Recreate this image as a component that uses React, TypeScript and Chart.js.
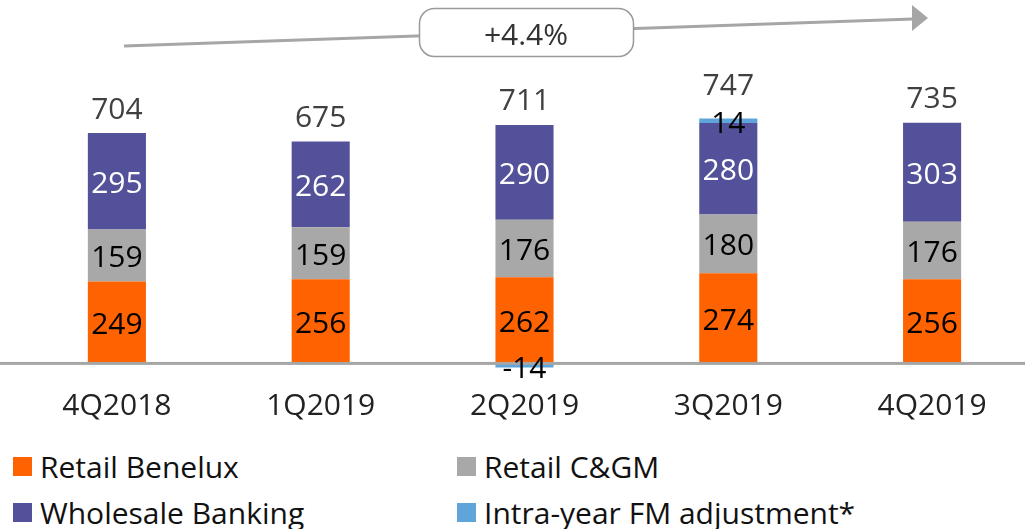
import React, { useEffect, useRef } from 'react';
import { Chart, registerables } from 'chart.js';

Chart.register(...registerables);

const categories = ['4Q2018', '1Q2019', '2Q2019', '3Q2019', '4Q2019'];
const retailBenelux = [249, 256, 262, 274, 256];
const retailCGM = [159, 159, 176, 180, 176];
const wholesaleBanking = [295, 262, 290, 280, 303];
const fmAdjustment = [0, 0, -14, 14, 0];
const totals = [704, 675, 711, 747, 735];
const growthLabel = '+4.4%';
const seriesNames = ['Retail Benelux', 'Retail C&GM', 'Wholesale Banking', 'Intra-year FM adjustment*'];

const colors = ['#FF6200', '#A8A8A8', '#525199', '#5FA5DA'];
const labelColors = ['#000000', '#000000', '#FFFFFF', '#000000'];
const FONT = '"Open Sans", "Liberation Sans", sans-serif';
const TEXT_SHIFT = 3;

const overlayPlugin = {
  id: 'overlay',
  afterDatasetsDraw(chart: any) {
    const ctx = chart.ctx;
    const yScale = chart.scales.y;
    const zero = yScale.getPixelForValue(0);
    ctx.save();
    // baseline
    ctx.fillStyle = '#A6A6A6';
    ctx.fillRect(0, zero - 1, chart.width, 3);

    // segment labels
    ctx.font = `30px ${FONT}`;
    ctx.textAlign = 'center';
    ctx.textBaseline = 'middle';
    const tops: number[] = categories.map(() => Infinity);
    const xs: number[] = categories.map(() => 0);
    chart.data.datasets.forEach((ds: any, di: number) => {
      const meta = chart.getDatasetMeta(di);
      meta.data.forEach((el: any, i: number) => {
        const v = ds.data[i];
        const p = el.getProps(['x', 'y', 'base'], true);
        xs[i] = p.x;
        if (!v) return;
        if (v > 0) tops[i] = Math.min(tops[i], p.y);
        ctx.fillStyle = labelColors[di];
        let cy = (p.y + p.base) / 2 + TEXT_SHIFT;
        if (di === 3) cy += 1;
        ctx.fillText(String(v), p.x, cy);
      });
    });

    // totals
    ctx.fillStyle = '#404040';
    totals.forEach((t, i) => {
      const extra = fmAdjustment[i] > 0 ? 9 : 0;
      ctx.fillText(String(t), xs[i], tops[i] - 26 - extra + TEXT_SHIFT);
    });

    // growth arrow
    ctx.strokeStyle = '#A6A6A6';
    ctx.lineWidth = 3;
    ctx.beginPath();
    ctx.moveTo(124, 46);
    ctx.lineTo(913, 19);
    ctx.stroke();
    ctx.fillStyle = '#A6A6A6';
    ctx.beginPath();
    ctx.moveTo(912, 5);
    ctx.lineTo(928, 18);
    ctx.lineTo(912, 31);
    ctx.closePath();
    ctx.fill();

    // growth box
    ctx.fillStyle = '#FFFFFF';
    ctx.strokeStyle = '#9A9A9A';
    ctx.lineWidth = 1.5;
    ctx.beginPath();
    (ctx as any).roundRect(419.5, 8.5, 214, 48, 15);
    ctx.fill();
    ctx.stroke();
    ctx.fillStyle = '#333333';
    ctx.fillText(growthLabel, 526, 33 + TEXT_SHIFT);
    ctx.restore();
  },
};

export default function App() {
  const canvasRef = useRef<HTMLCanvasElement | null>(null);

  useEffect(() => {
    if (!canvasRef.current) return;
    const data = [retailBenelux, retailCGM, wholesaleBanking, fmAdjustment];
    const chart = new Chart(canvasRef.current, {
      type: 'bar',
      data: {
        labels: categories,
        datasets: data.map((d, i) => ({
          label: seriesNames[i],
          data: d,
          backgroundColor: colors[i],
          borderWidth: 0,
          categoryPercentage: 1,
          barPercentage: 0.285,
        })),
      },
      options: {
        responsive: false,
        animation: false,
        layout: { padding: { left: 15, right: 6, top: 36, bottom: 4 } },
        plugins: {
          legend: { display: false },
          tooltip: { enabled: false },
        },
        scales: {
          x: {
            stacked: true,
            grid: { display: false, drawTicks: false },
            border: { display: false },
            ticks: {
              color: '#222222',
              padding: 12,
              font: { family: FONT, size: 30 },
            },
          },
          y: {
            stacked: true,
            display: false,
            min: -40,
            max: 1000,
          },
        },
      },
      plugins: [overlayPlugin],
    });
    return () => chart.destroy();
  }, []);

  const legendPos = [
    [13, 457],
    [457, 457],
    [13, 503],
    [457, 503],
  ];

  return (
    <div style={{ position: 'absolute', left: 0, top: 0, width: 1025, height: 529, overflow: 'hidden', background: '#fff' }}>
      <canvas ref={canvasRef} width={1040} height={440} style={{ position: 'absolute', left: 0, top: 0, width: 1040, height: 440 }} />
      {seriesNames.map((name, i) => (
        <div
          key={name}
          style={{
            position: 'absolute',
            left: legendPos[i][0],
            top: legendPos[i][1],
            height: 19,
            display: 'flex',
            alignItems: 'center',
            whiteSpace: 'nowrap',
            fontFamily: FONT,
            fontSize: 30,
            lineHeight: '19px',
            color: '#111111',
          }}
        >
          <span style={{ display: 'inline-block', width: 19, height: 19, background: colors[i], marginRight: 8 }} />
          <span>{name}</span>
        </div>
      ))}
    </div>
  );
}
